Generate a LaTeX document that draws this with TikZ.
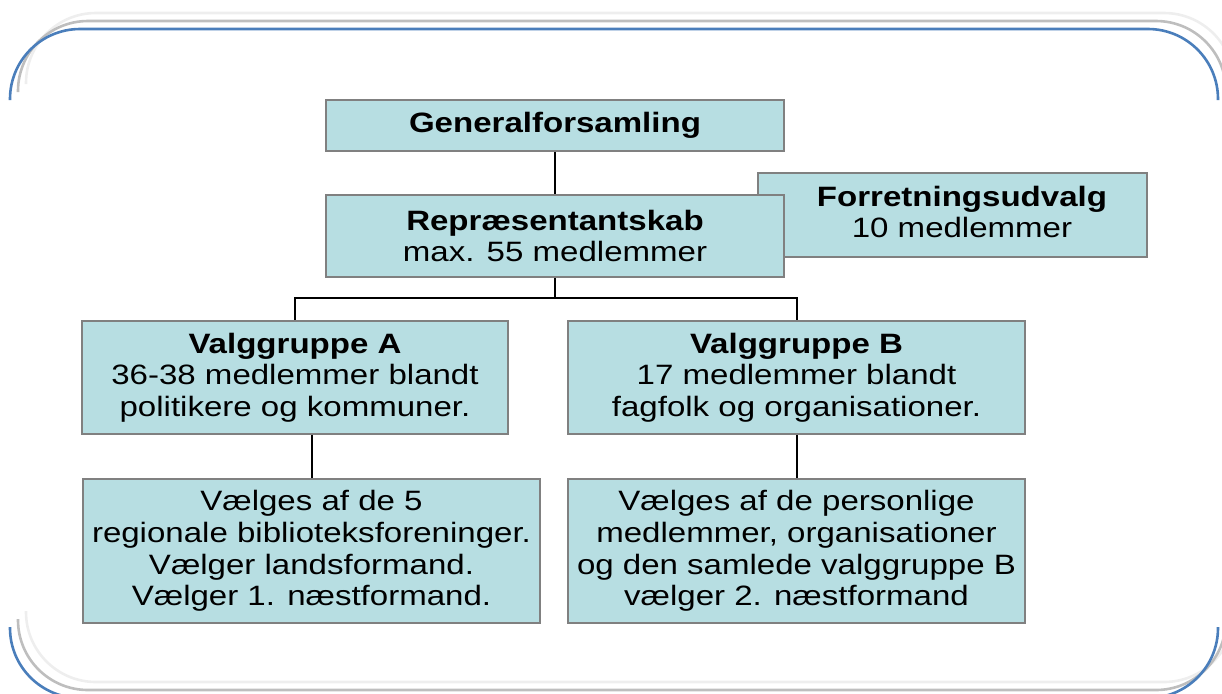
\documentclass[tikz,border=0pt]{standalone}
\usepackage{fontspec}
\setmainfont{Liberation Sans}[FakeStretch=1.18]
\definecolor{boxfill}{RGB}{183,222,226}
\definecolor{boxline}{RGB}{128,128,128}
\definecolor{frameblue}{RGB}{74,126,187}
\definecolor{framegray}{RGB}{190,190,190}
\definecolor{framelight}{RGB}{238,238,238}
\tikzset{
  orgbox/.style={draw=boxline, fill=boxfill, line width=0.75pt, inner sep=0pt, align=center,
     font=\fontsize{14pt}{15.85pt}\selectfont},
  lbl/.style={inner sep=0pt, align=center, font=\fontsize{14pt}{15.85pt}\selectfont},
  conn/.style={draw=black, line width=1pt},
  framestroke/.style={line width=1.3pt, rounded corners=35pt},
}
\begin{document}
\begin{tikzpicture}[x=0.5pt,y=-0.5pt]
\useasboundingbox (0,0) rectangle (1222,693);
\clip (0,0) rectangle (1222,693);
% frame (three offset copies, sides open)
\foreach \dx/\col in {16/framelight,8/framegray,0/frameblue}{
  \draw[framestroke, draw=\col] (10+\dx,100-\dx) -- (10+\dx,29-\dx) -- (1218+\dx,29-\dx) -- (1218+\dx,100-\dx);
  \draw[framestroke, draw=\col] (10+\dx,627-\dx) -- (10+\dx,698-\dx) -- (1218+\dx,698-\dx) -- (1218+\dx,627-\dx);
}
% boxes
\node[orgbox, minimum width=194.5pt, minimum height=42pt] (F) at (952.5,215) {};
\node[lbl] (Ft) at (962,212) {\textbf{Forretningsudvalg}\\10 medlemmer};
\node[orgbox, minimum width=229pt, minimum height=25.5pt] (G) at (555,125.5) {\textbf{Generalforsamling}};
\node[orgbox, minimum width=229pt, minimum height=41pt] (R) at (555,236) {\textbf{Repræsentantskab}\\max. 55 medlemmer};
\node[orgbox, minimum width=213pt, minimum height=56.5pt] (A) at (295,377.5) {\textbf{Valggruppe A}\\36-38 medlemmer blandt\\politikere og kommuner.};
\node[orgbox, minimum width=228.5pt, minimum height=56.5pt] (B) at (796.5,377.5) {\textbf{Valggruppe B}\\17 medlemmer blandt\\fagfolk og organisationer.};
\node[orgbox, minimum width=228.5pt, minimum height=72pt] (LA) at (311.5,551) {Vælges af de 5\\regionale biblioteksforeninger.\\Vælger landsformand.\\Vælger 1. næstformand.};
\node[orgbox, minimum width=228.5pt, minimum height=72pt] (LB) at (796.5,551) {Vælges af de personlige\\medlemmer, organisationer\\og den samlede valggruppe B\\vælger 2. næstformand};
% connectors
\coordinate (bus) at (555,298);
\draw[conn] (G.south) -- (R.north);
\draw[conn] (R.south) -- (bus) -| (A.north);
\draw[conn] (bus) -| (B.north);
\draw[conn] (A.south -| LA.north) -- (LA.north);
\draw[conn] (B.south) -- (LB.north);
\end{tikzpicture}
\end{document}
